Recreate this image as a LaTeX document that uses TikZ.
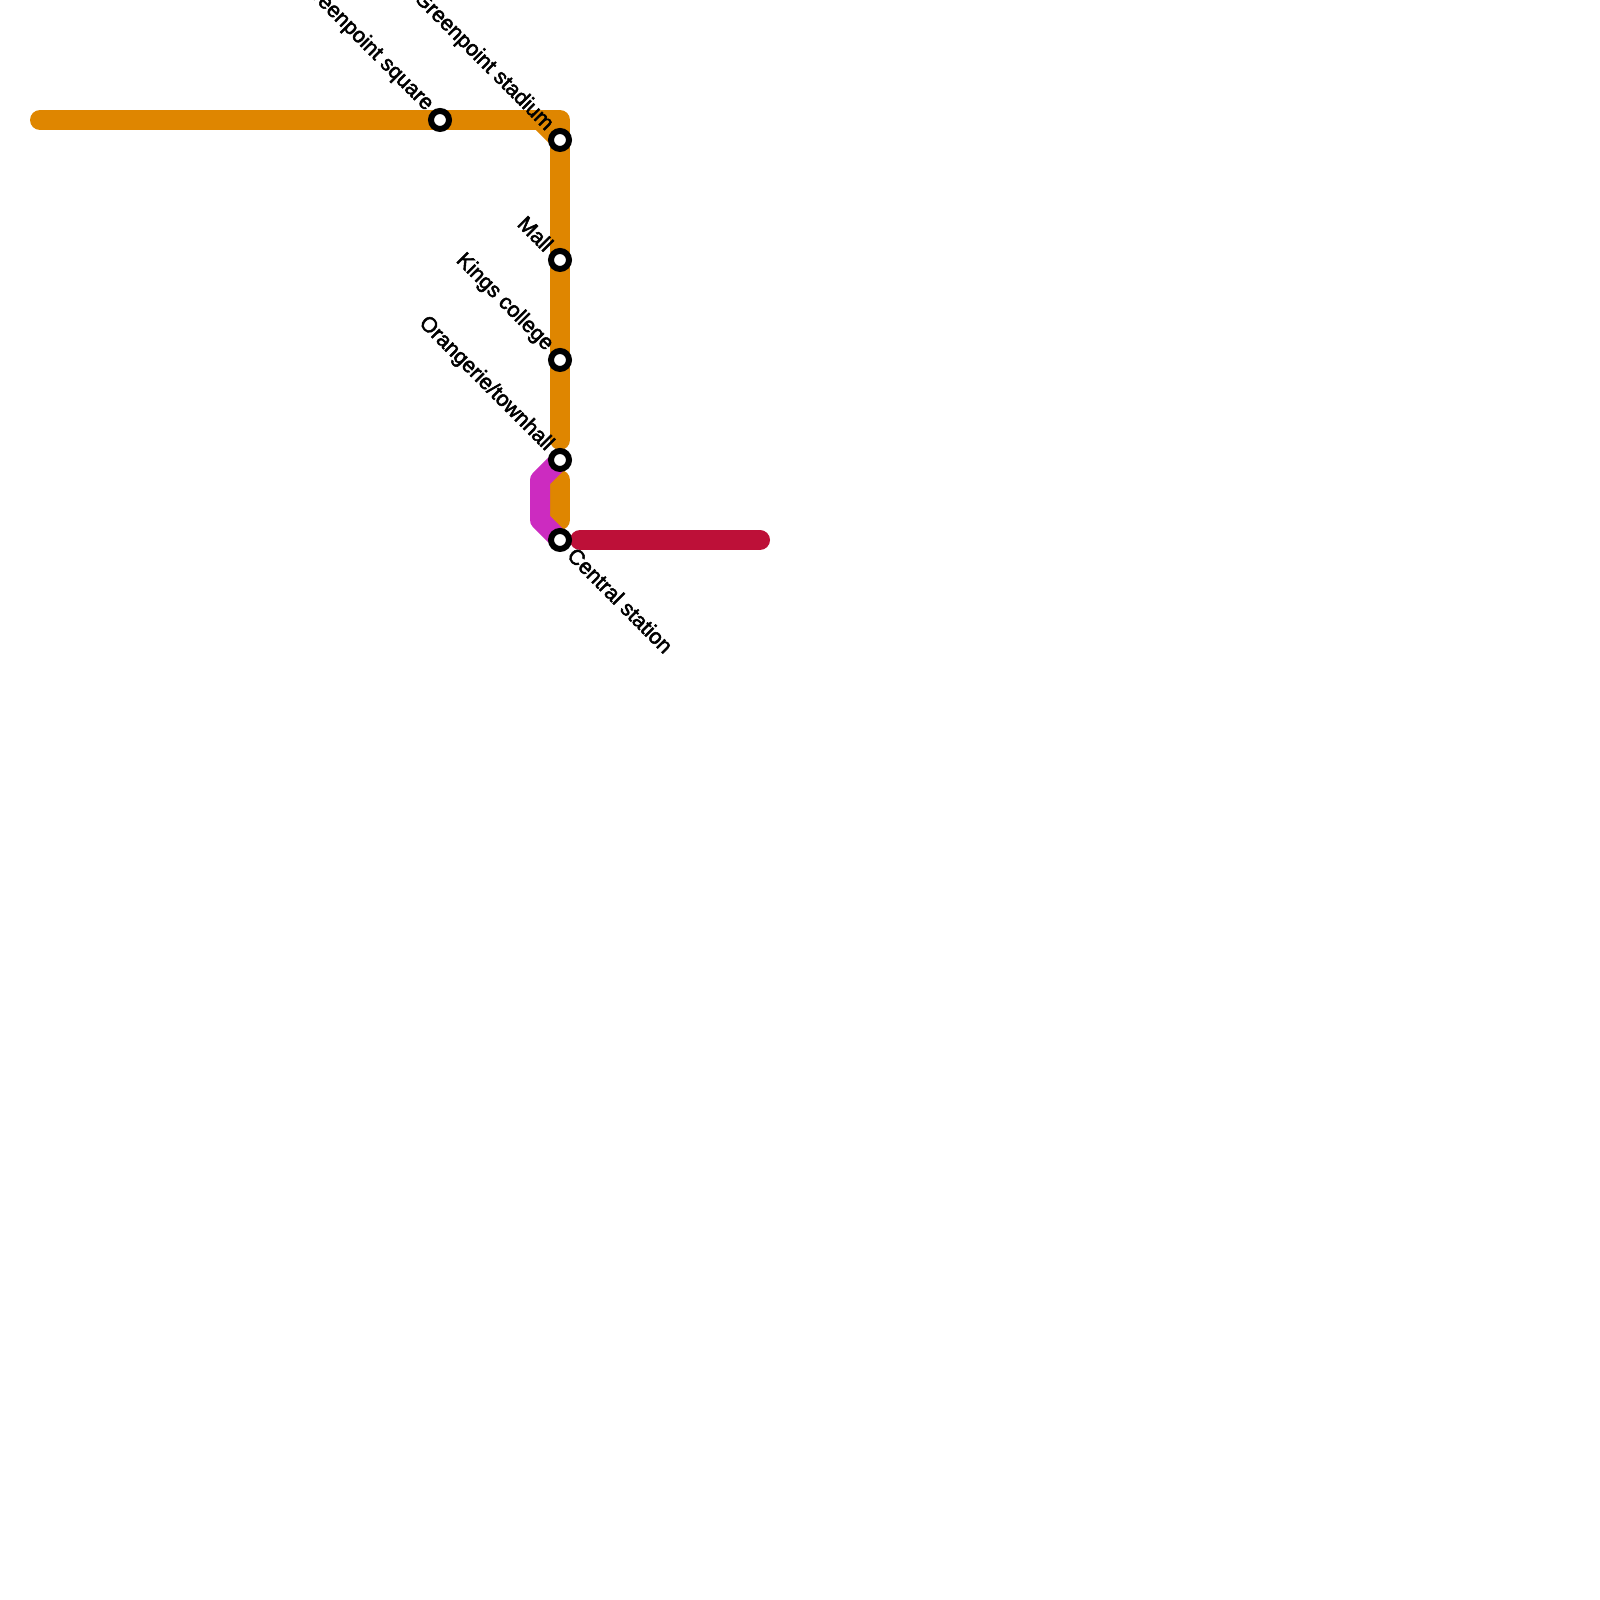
\documentclass[tikz,border=0pt]{standalone}
\usepackage{fontspec}
\setmainfont{Liberation Sans}
\newfontfamily\stationfont[FakeBold=2.4]{Liberation Sans}
\usetikzlibrary{backgrounds}
\definecolor{lineorange}{HTML}{DF8600}
\definecolor{linepurple}{HTML}{CC2BC0}
\definecolor{linered}{HTML}{BD1038}
\tikzset{
    station/.style={circle, draw=black, fill=white, line width=0.06cm, minimum size=0.18cm, inner sep=0pt},
    metro/.style={line width=0.2cm, line cap=round, line join=round},
    stationname/.style={rotate=-45, inner sep=0pt, font=\stationfont\fontsize{6.1pt}{8pt}\selectfont}
}
\begin{document}
\begin{tikzpicture}
        \useasboundingbox (0,0) rectangle (16,16);

        \node[station] (square) at (4.4,14.8) {};
        \node[station] (stadium) at (5.6,14.6) {};
        \node[station] (mall) at (5.6,13.4) {};
        \node[station] (kings) at (5.6,12.4) {};
        \node[station] (orangerie) at (5.6,11.4) {};
        \node[station] (central) at (5.6,10.6) {};

        \coordinate (west) at (0.4,14.8);
        \coordinate (bend) at (5.4,14.8);
        \coordinate (corner) at (5.6,14.8);
        \coordinate (gapa) at (5.6,11.6);
        \coordinate (gapb) at (5.6,11.2);
        \coordinate (gapc) at (5.6,10.8);
        \coordinate (sidea) at (5.4,11.2);
        \coordinate (sideb) at (5.4,10.8);
        \coordinate (redstart) at (5.8,10.6);
        \coordinate (east) at (7.6,10.6);

        \begin{scope}[on background layer]
        \draw[metro, lineorange] (west) -- (square.center) -- (corner) -- (stadium.center) -- (mall.center) -- (kings.center) -- (gapa);
        \draw[metro, lineorange] (bend) -- (stadium.center);
        \draw[metro, lineorange] (gapb) -- (gapc);
        \draw[metro, linered] (redstart) -- (east);
        \draw[metro, linepurple] (orangerie.center) -- (sidea) -- (sideb) -- (central.center);
        \end{scope}

        \node[stationname, anchor=east] (squarename) at (4.3,14.92) {Greenpoint square};
        \node[stationname, anchor=east] (stadiumname) at (5.5,14.72) {Greenpoint stadium};
        \node[stationname, anchor=east] (mallname) at (5.5,13.52) {Mall};
        \node[stationname, anchor=east] (kingsname) at (5.5,12.52) {Kings college};
        \node[stationname, anchor=east] (orangeriename) at (5.5,11.52) {Orangerie/townhall};
        \node[stationname, anchor=west] (centralname) at (5.71,10.49) {Central station};

    \end{tikzpicture}
\end{document}
